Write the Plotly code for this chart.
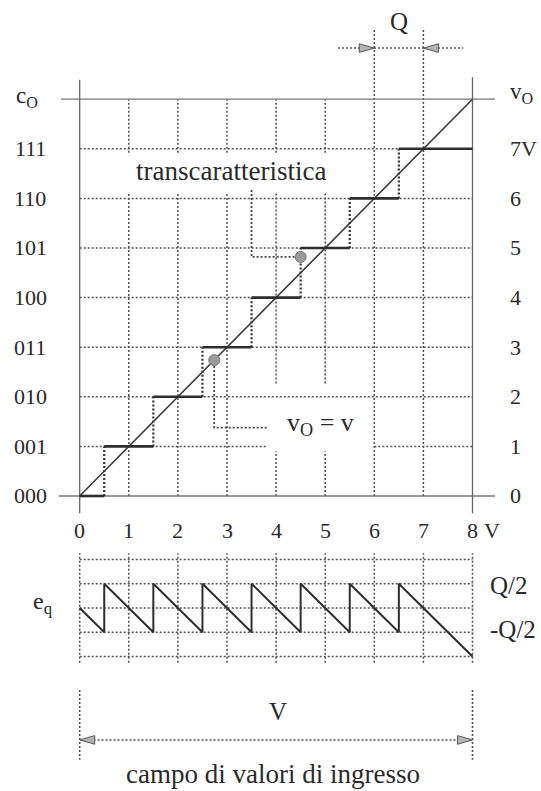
import plotly.graph_objects as go

# ---------------- data ----------------
codes = ["000", "001", "010", "011", "100", "101", "110", "111"]
levels = [0, 1, 2, 3, 4, 5, 6, 7]
right_labels = ["0", "1", "2", "3", "4", "5", "6", "7V"]
x_ticks = [0, 1, 2, 3, 4, 5, 6, 7, 8]
x_tick_labels = ["0", "1", "2", "3", "4", "5", "6", "7", "8"]
transitions = [0.5, 1.5, 2.5, 3.5, 4.5, 5.5, 6.5]
full_scale = 8
Q = 1
q_left = 6
eq_grid = [-1, -0.5, 0, 0.5, 1]
eq_tick_vals = [0.47, -0.45]
eq_tick_text = ["Q/2", "-Q/2"]
dot_diag = (2.74, 2.74)
dot_stair = (4.5, 4.82)

# ---------------- layout geometry ----------------
W, H = 541, 791
XR = [-1.623, 9.395]
YR = [-5.948, 10.0]
Y2R = [-3.773, 12.536]
SX = W / (XR[1] - XR[0])
SY = H / (YR[1] - YR[0])
SY2 = H / (Y2R[1] - Y2R[0])

FONT = "Liberation Serif, Times New Roman, serif"
TXT = "#2a2a2a"
GRID = "#505050"
DOT = "2px,2px"

fig = go.Figure()


def seg_trace(xs, ys, color, width, dash="solid", yaxis="y"):
    fig.add_trace(go.Scatter(x=xs, y=ys, mode="lines", yaxis=yaxis,
                             line=dict(color=color, width=width, dash=dash),
                             hoverinfo="skip", showlegend=False))


def segments_with_gaps(a0, a1, gaps):
    """Return list of (start,end) pieces of [a0,a1] minus the gaps."""
    pieces = []
    cur = a0
    for g0, g1 in sorted(gaps):
        if g0 > cur:
            pieces.append((cur, min(g0, a1)))
        cur = max(cur, g1)
    if cur < a1:
        pieces.append((cur, a1))
    return pieces


# ---------------- main grid ----------------
label_box_v = (6.12, 6.92)          # gap behind "transcaratteristica"
eqlabel_box_v = (0.9, 2.27)         # gap behind "vo = v"
eqlabel_box_h = (3.8, 6.0)

gx, gy = [], []
for x in x_ticks[1:-1]:
    top = 9.44 if x >= q_left else full_scale
    gaps = []
    if 1 <= x <= 5:
        gaps.append(label_box_v)
    if x in (4, 5):
        gaps.append(eqlabel_box_v)
    for a, b in segments_with_gaps(0, top, gaps):
        gx += [x, x, None]
        gy += [a, b, None]
for y in levels[1:]:
    gaps = [eqlabel_box_h] if y == 1 else []
    for a, b in segments_with_gaps(0, full_scale, gaps):
        gx += [a, b, None]
        gy += [y, y, None]
seg_trace(gx, gy, GRID, 1.5, DOT)

# frame lines
seg_trace([-0.38, 8.46, None, -0.42, 8.46], [full_scale, full_scale, None, 0, 0], "#777", 1.3)
seg_trace([0, 0, None, full_scale, full_scale], [-0.35, 8.39, None, -0.35, 8.44], "#666", 1.3)

# diagonal vo = v
seg_trace([0, full_scale], [0, full_scale], "#3a3a3a", 1.6)

# risers of the staircase (dotted)
rx, ry = [], []
for i, t in enumerate(transitions):
    rx += [t, t, None]
    ry += [levels[i], levels[i + 1], None]
seg_trace(rx, ry, "#3a3a3a", 2.3, DOT)

# steps (solid)
sx_, sy_ = [], []
for k in levels:
    a = 0 if k == 0 else transitions[k - 1]
    b = transitions[k] if k < len(transitions) else full_scale
    sx_ += [a, b, None]
    sy_ += [k, k, None]
seg_trace(sx_, sy_, "#2e2e2e", 2.6)

# pointer brackets
seg_trace([3.5, 3.5, dot_stair[0] - 0.1], [6.17, dot_stair[1], dot_stair[1]], "#444", 1.8, DOT)
seg_trace([dot_diag[0], dot_diag[0], 3.84], [dot_diag[1] - 0.12, 1.38, 1.38], "#444", 1.8, DOT)

# dots
fig.add_trace(go.Scatter(x=[dot_diag[0], dot_stair[0]], y=[dot_diag[1], dot_stair[1]],
                         mode="markers", marker=dict(size=11, color="#9a9a9a",
                                                     line=dict(color="#7a7a7a", width=1)),
                         hoverinfo="skip", showlegend=False))


def arrowhead(xt, yt, direction, yaxis="y", sy=SY):
    L = 15 / SX * direction
    h = 4.3 / sy
    fig.add_trace(go.Scatter(x=[xt, xt - L, xt - L, xt], y=[yt, yt + h, yt - h, yt],
                             mode="lines", fill="toself", fillcolor="#b5b5b5", yaxis=yaxis,
                             line=dict(color="#555", width=1), hoverinfo="skip",
                             showlegend=False))


# Q width marker
q_row = 9.03
seg_trace([5.26, 7.81], [q_row, q_row], GRID, 1.5, DOT)
arrowhead(q_left, q_row, +1)
arrowhead(q_left + Q, q_row, -1)

# ---------------- quantization error subplot ----------------
ex, ey = [], []
for x in x_ticks:
    ex += [x, x, None]
    ey += [-1.13, 1.13, None]
for e in eq_grid:
    ex += [0, full_scale, None]
    ey += [e, e, None]
seg_trace(ex, ey, GRID, 1.5, DOT, yaxis="y2")

saw_x, saw_y = [0], [levels[0] - 0]
for i, t in enumerate(transitions):
    saw_x += [t, t]
    saw_y += [levels[i] - t, levels[i + 1] - t]
saw_x.append(full_scale)
saw_y.append(levels[-1] - full_scale)
seg_trace(saw_x, saw_y, "#2e2e2e", 2.0, yaxis="y2")

# input range marker
r_row = -2.72
seg_trace([0, 0, None, full_scale, full_scale], [-1.69, -3.13, None, -1.69, -3.13], GRID, 1.6, DOT, yaxis="y2")
seg_trace([0.2, full_scale - 0.2], [r_row, r_row], GRID, 1.6, DOT, yaxis="y2")
arrowhead(0, r_row, -1, yaxis="y2", sy=SY2)
arrowhead(full_scale, r_row, +1, yaxis="y2", sy=SY2)

# ---------------- text ----------------
ann = []


def text(x, y, s, size, xanchor="center", yref="y"):
    ann.append(dict(x=x, y=y, xref="x", yref=yref, text=s, showarrow=False,
                    xanchor=xanchor, yanchor="middle",
                    font=dict(family=FONT, size=size, color=TXT)))


for lv, c in zip(levels, codes):
    text(-1.01, lv, c, 22)
for lv, r in zip(levels, right_labels):
    text(8.72, lv, r, 22, xanchor="left")
for xv, t in zip(x_ticks, x_tick_labels):
    text(xv, -0.69, t, 22)
text(8.4, -0.69, "V", 22)
text(-1.07, 8.04, "c<sub>O</sub>", 23)
text(8.72, 8.12, "v<sub>O</sub>", 23, xanchor="left")
text(6.5, 9.57, "Q", 25)
text(3.09, 6.55, "transcaratteristica", 27)
text(4.18, 1.45, "v<sub>O</sub> = v", 26, xanchor="left")

text(-0.75, 0.1, "e<sub>q</sub>", 24, yref="y2")
for v, t in zip(eq_tick_vals, eq_tick_text):
    text(8.32, v, t, 25, xanchor="left", yref="y2")
text(4.03, -2.14, "V", 25, yref="y2")
text(3.94, -3.42, "campo di valori di ingresso", 27, yref="y2")

fig.update_layout(
    width=W, height=H, margin=dict(l=0, r=0, t=0, b=0),
    paper_bgcolor="white", plot_bgcolor="white", showlegend=False,
    xaxis=dict(range=XR, visible=False, fixedrange=True),
    yaxis=dict(range=YR, visible=False, fixedrange=True),
    yaxis2=dict(range=Y2R, visible=False, overlaying="y", fixedrange=True),
    annotations=ann,
)

fig.write_html("out.html", config={"displayModeBar": False},
               post_script="document.body.style.margin='0';")
